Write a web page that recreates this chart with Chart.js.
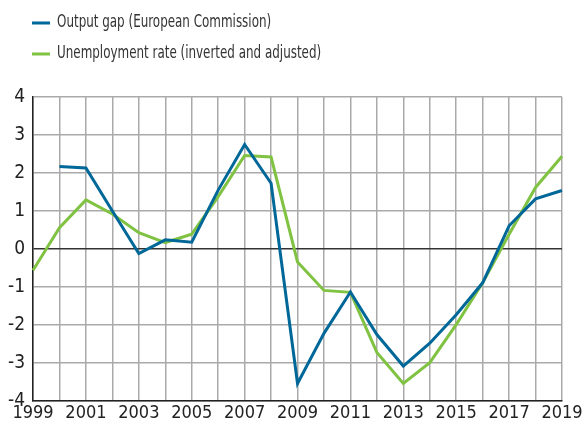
<!DOCTYPE html>
<html>
<head>
<meta charset="utf-8">
<script src="https://cdn.jsdelivr.net/npm/chart.js@4/dist/chart.umd.min.js"></script>
<style>
  html, body { margin: 0; padding: 0; background: #fff; }
  #wrap { position: relative; width: 582px; height: 425px; }
</style>
</head>
<body>
<div id="wrap"><canvas id="myChart" width="582" height="425"></canvas></div>
<script>
var years = ['1999','2000','2001','2002','2003','2004','2005','2006','2007','2008','2009',
             '2010','2011','2012','2013','2014','2015','2016','2017','2018','2019'];
var output_gap = [null, 2.17, 2.13, 1.0, -0.12, 0.24, 0.18, 1.55, 2.75, 1.73, -3.54,
                  -2.22, -1.13, -2.25, -3.08, -2.48, -1.73, -0.89, 0.61, 1.32, 1.54];
var unemployment = [-0.56, 0.56, 1.29, 0.92, 0.43, 0.17, 0.39, 1.38, 2.46, 2.42, -0.34,
                    -1.09, -1.14, -2.72, -3.54, -2.99, -1.99, -0.89, 0.39, 1.62, 2.44];
var series_names = ['Output gap (European Commission)', 'Unemployment rate (inverted and adjusted)'];
var y_ticks = [-4, -3, -2, -1, 0, 1, 2, 3, 4];

var font_family = "'Liberation Sans Narrow', 'DejaVu Sans Condensed', sans-serif";

// legend drawn on the canvas, stacked at top left
var legendPlugin = {
    id: 'stackLegend',
    afterDraw: function(chart) {
        var c = chart.ctx;
        c.save();
        c.font = '17px ' + font_family;
        c.textBaseline = 'middle';
        chart.data.datasets.forEach(function(ds, i) {
            var y = 23 + i * 31;
            c.strokeStyle = ds.borderColor;
            c.lineWidth = 3;
            c.beginPath();
            c.moveTo(32, y);
            c.lineTo(50, y);
            c.stroke();
            c.fillStyle = '#333';
            c.save();
            c.translate(57, y);
            c.scale(0.78, 1);   // squeeze to look like the narrow font in the original
            c.fillText(ds.label, 0, 0);
            c.restore();
        });
        c.restore();
    }
};

var ctx = document.getElementById('myChart').getContext('2d');
var myChart = new Chart(ctx, {
    type: 'line',
    data: {
        labels: years,
        datasets: [{
            label: series_names[0],
            data: output_gap,
            borderColor: 'rgb(0, 104, 152)',
            borderWidth: 3,
            pointRadius: 0,
            tension: 0,
            spanGaps: false
        }, {
            label: series_names[1],
            data: unemployment,
            borderColor: 'rgb(128, 194, 66)',
            borderWidth: 3,
            pointRadius: 0,
            tension: 0
        }]
    },
    options: {
        responsive: false,
        animation: false,
        layout: { padding: { top: 97, right: 0, left: 0, bottom: 0 } },
        plugins: {
            legend: { display: false },
            tooltip: { enabled: false }
        },
        scales: {
            x: {
                afterFit: function(axis) { axis.paddingRight = 20; },
                grid: { color: '#aaa', lineWidth: 1.5, drawTicks: false },
                border: { color: '#222', width: 1.5 },
                ticks: {
                    autoSkip: false,
                    maxRotation: 0,
                    padding: 3,
                    color: '#222',
                    font: { family: font_family, size: 18, lineHeight: 1.0 },
                    callback: function(v, i) { return i % 2 === 0 ? years[i] : ''; }
                }
            },
            y: {
                min: -4,
                max: 4,
                afterBuildTicks: function(axis) {
                    axis.ticks = y_ticks.map(function(v) { return { value: v }; });
                },
                grid: {
                    color: function(c) { return c.tick && c.tick.value === 0 ? '#333' : '#aaa'; },
                    lineWidth: 1.5,
                    drawTicks: false
                },
                border: { color: '#222', width: 1.5 },
                ticks: {
                    padding: 8,
                    color: '#222',
                    font: { family: font_family, size: 19 }
                }
            }
        }
    },
    plugins: [legendPlugin]
});
</script>
</body>
</html>
